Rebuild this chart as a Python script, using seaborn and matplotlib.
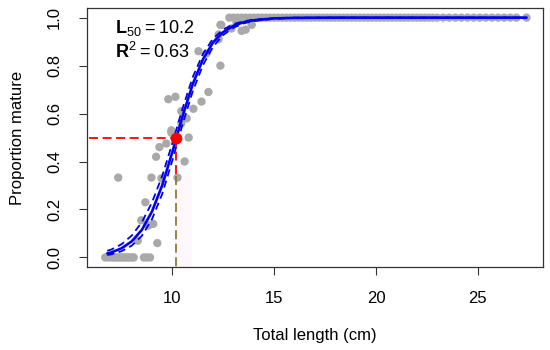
import matplotlib
matplotlib.use("Agg")
import matplotlib.pyplot as plt
import seaborn as sns
import pandas as pd

immature_length = [6.7, 6.85, 7.0, 7.1, 7.2, 7.3, 7.4, 7.5, 7.6, 7.7, 7.8, 7.9, 8.0,
                   8.1, 8.6, 8.75, 8.9]
mid_length = [7.34, 8.97, 9.46, 10.25, 10.6, 9.2, 9.36, 9.7, 9.95, 10.8, 8.67,
              8.47, 8.82, 9.06, 8.3, 9.26, 10.44,
              9.95, 10.7, 10.44, 11.03, 9.8, 10.15, 11.43, 11.77, 12.36, 11.28, 11.67,
              12.27, 12.36, 13.15, 13.6, 12.4, 12.9, 13.4, 13.9, 12.27]
mid_prop = [0.333, 0.333, 0.33, 0.333, 0.40, 0.42, 0.46, 0.475, 0.52, 0.50, 0.23,
            0.155, 0.133, 0.14, 0.07, 0.06, 0.56,
            0.53, 0.58, 0.61, 0.62, 0.66, 0.67, 0.65, 0.69, 0.80, 0.86, 0.85,
            0.93, 0.97, 0.98, 0.95, 0.97, 0.955, 0.945, 0.97, 0.91]
mature_length = [12.8, 13.0, 13.2, 13.4, 13.6, 13.8, 14.0, 14.2, 14.4, 14.6, 14.8,
                 15.0, 15.2, 15.4, 15.6, 15.8, 16.0, 16.2, 16.4, 16.6, 16.8, 17.0,
                 17.2, 17.4, 17.6, 17.8, 18.0, 18.2, 18.4, 18.6, 18.8, 19.0, 19.2,
                 19.4, 19.6, 19.8, 20.0, 20.2, 20.4, 20.6, 20.8, 21.0, 21.2, 21.4,
                 21.6, 21.8, 22.0, 22.2, 22.4, 22.6, 22.8, 23.0, 23.3, 23.6, 23.9,
                 24.2, 24.5, 24.8, 25.1, 25.4, 25.7, 26.0, 26.3, 26.6, 26.9, 27.4]

# fitted ogive and 95% band
fit_length = [6.8, 7.0, 7.5, 8.0, 8.5, 9.0, 9.5, 10.0, 10.5, 11.0, 11.5, 12.0,
              12.5, 13.0, 13.5, 14.0, 15.0, 16.0, 18.0, 20.0, 22.0, 24.0, 26.0, 27.4]
fit_prop = [0.017, 0.021, 0.038, 0.067, 0.115, 0.192, 0.301, 0.440, 0.589, 0.723,
            0.826, 0.897, 0.940, 0.966, 0.981, 0.989, 0.997, 0.999, 1, 1, 1, 1, 1, 1]
fit_lower = [0.010, 0.013, 0.026, 0.049, 0.090, 0.160, 0.265, 0.405, 0.555, 0.693,
             0.802, 0.879, 0.928, 0.958, 0.976, 0.986, 0.995, 0.999, 1, 1, 1, 1, 1, 1]
fit_upper = [0.028, 0.033, 0.055, 0.091, 0.147, 0.230, 0.340, 0.477, 0.622, 0.752,
             0.849, 0.913, 0.951, 0.973, 0.985, 0.992, 0.998, 1, 1, 1, 1, 1, 1, 1]

L50 = 10.2
R2 = 0.63

obs = pd.DataFrame({
    "length": immature_length + mid_length + mature_length,
    "prop": [0] * len(immature_length) + mid_prop + [1] * len(mature_length),
})
fit = pd.DataFrame({"length": fit_length, "fit": fit_prop,
                    "lower": fit_lower, "upper": fit_upper})

sns.set_style("ticks")
plt.rcParams["font.family"] = ["Liberation Sans", "DejaVu Sans"]
plt.rcParams["mathtext.fontset"] = "custom"
plt.rcParams["mathtext.rm"] = "Liberation Sans"
plt.rcParams["mathtext.bf"] = "Liberation Sans:bold"
plt.rcParams["text.color"] = "black"
plt.rcParams["axes.labelcolor"] = "black"
plt.rcParams["xtick.labelcolor"] = "black"
plt.rcParams["ytick.labelcolor"] = "black"

fig = plt.figure(figsize=(5.5, 3.5), dpi=100)
ax = fig.add_axes([0.158, 0.237, 0.829, 0.740])

# faint shading below the L50 line
ax.fill_between([10.15, 10.95], -0.04, 0.34, color="#fef8fc", zorder=0, lw=0)

sns.scatterplot(data=obs, x="length", y="prop", color="#a9a9a9", s=36,
                edgecolor="none", ax=ax, zorder=2)

sns.lineplot(data=fit, x="length", y="fit", color="#0000ee", lw=1.9, ax=ax, zorder=3)
sns.lineplot(data=fit, x="length", y="lower", color="#0000ee", lw=1.3,
             dashes=(4, 2.5), ax=ax, zorder=3)
sns.lineplot(data=fit, x="length", y="upper", color="#0000ee", lw=1.3,
             dashes=(4, 2.5), ax=ax, zorder=3)

# L50 guide lines
ax.plot([5.9, L50], [0.5, 0.5], color="red", lw=1.3, dashes=(5, 2.5), zorder=4)
ax.plot([L50, L50], [0.5, 0.34], color="red", lw=1.3, dashes=(5, 2.5), zorder=4)
ax.plot([L50, L50], [0.34, -0.04], color="#8b7a3a", lw=1.3, dashes=(5, 2.5), zorder=4)
ax.scatter([L50], [0.5], color="red", s=55, zorder=5)

ax.text(7.2, 0.955, r"$\mathbf{L}_{50} = $" + f"{L50}", fontsize=13, va="center")
ax.text(7.2, 0.855, r"$\mathbf{R}^{2} = $" + f"{R2}", fontsize=13, va="center")

ax.set_xlim(5.8, 28.2)
ax.set_ylim(-0.04, 1.04)
ax.set_xticks([10, 15, 20, 25])
ax.set_yticks([0.0, 0.2, 0.4, 0.6, 0.8, 1.0])
ax.set_yticklabels(["0.0", "0.2", "0.4", "0.6", "0.8", "1.0"], rotation=90, va="center")
ax.tick_params(labelsize=12, length=6, color="#333333")
ax.tick_params(axis="x", pad=11)
ax.tick_params(axis="y", pad=12)
ax.set_xlabel("Total length (cm)", fontsize=12, labelpad=16)
ax.set_ylabel("Proportion mature", fontsize=12, labelpad=16)
for sp in ax.spines.values():
    sp.set_color("#333333")
    sp.set_linewidth(0.9)

fig.savefig("out.png", dpi=100)
